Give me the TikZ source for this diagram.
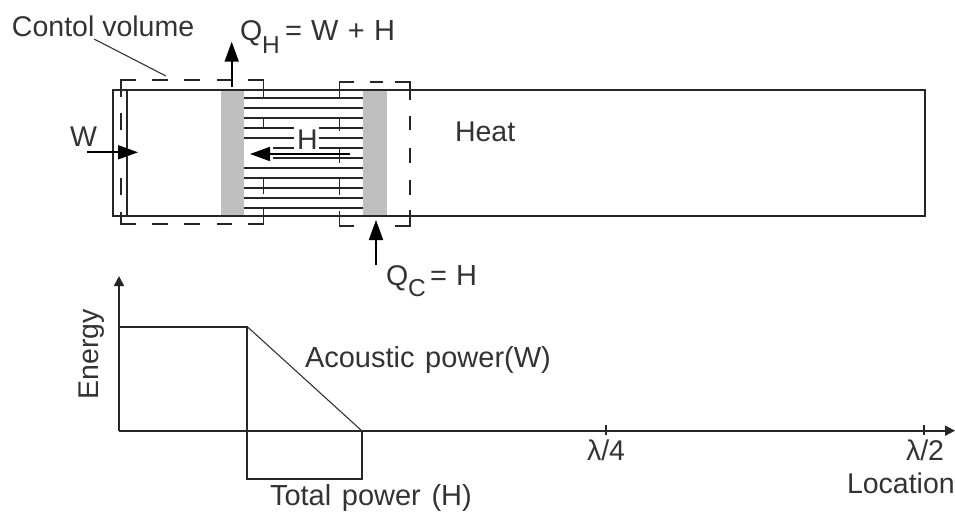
\documentclass[tikz,border=0pt]{standalone}
\usepackage{fontspec}
\setmainfont{Liberation Sans}
\newfontfamily\eqfam[WordSpace=1.45]{Liberation Sans}
\newfontfamily\widefam[WordSpace=1.15]{Liberation Sans}
\usetikzlibrary{arrows.meta}
\tikzset{
  px/.style={x=1pt,y=-1pt},
  ln/.style={line width=1.7pt,black!85},
  thin ln/.style={line width=1.1pt,black!80},
  cv/.style={line width=1.6pt,black!85},
  head/.style={-{Triangle[length=20pt,width=14pt]},line width=1.7pt,black},
  small head/.style={-{Triangle[length=10pt,width=10pt]},line width=1.7pt,black!85},
  lab/.style={anchor=base west,inner sep=0pt,outer sep=0pt,text=black!80,font=\fontsize{28.5}{30}\selectfont},
  wide lab/.style={lab,font=\widefam\fontsize{29}{30}\selectfont},
  eq lab/.style={lab,font=\eqfam\fontsize{29}{30}\selectfont},
  sublab/.style={anchor=base west,inner sep=0pt,outer sep=0pt,text=black!80,font=\fontsize{24.5}{26}\selectfont}
}
\begin{document}
\begin{tikzpicture}[px]
\useasboundingbox (0,0) rectangle (955,512);
% stacks
\fill[black!25] (220.7,90) rectangle (244,216);
\fill[black!25] (362.7,90) rectangle (386.7,216);
% stack plates
\foreach \y in {97.7,107.7,118,168,178,188.3,198.3,208.3}
  \draw[ln] (244,\y) -- (362.7,\y);
\draw[ln] (244,128) -- (294,128) (319,128) -- (362.7,128);
\draw[ln] (244,138) -- (294,138) (319,138) -- (362.7,138);
\draw[ln] (273,148) -- (294,148) (319,148) -- (362.7,148);
\draw[ln] (273,158) -- (362.7,158);
% tube and piston
\draw[ln] (127,90) rectangle (925,216);
\draw[ln] (113,90) rectangle (127,216);
% control volume 1
\draw[cv] (120.7,97) -- (120.7,80) -- (136,80);
\draw[cv] (151.7,80) -- (167.7,80) (184,80) -- (200,80) (216.7,80) -- (232,80);
\draw[cv] (248.3,80) -- (263.3,80) -- (263.3,98);
\draw[cv] (263.3,118) -- (263.3,128) (263.3,178) -- (263.3,194);
\draw[cv] (263.3,208) -- (263.3,224) -- (248.3,224);
\draw[cv] (232,224) -- (216.7,224) (200,224) -- (184,224) (167.7,224) -- (151.7,224);
\draw[cv] (136,224) -- (120.7,224) -- (120.7,212);
\draw[cv] (120.7,113) -- (120.7,130) (120.7,178) -- (120.7,195);
% control volume 2
\draw[cv] (339.3,98) -- (339.3,82) -- (354,82);
\draw[cv] (370,82) -- (383,82);
\draw[cv] (395,82) -- (410,82) -- (410,100);
\draw[cv] (410,116) -- (410,130) (410,148) -- (410,163) (410,180) -- (410,195);
\draw[cv] (410,210) -- (410,226) -- (395,226);
\draw[cv] (354,226) -- (339.3,226) -- (339.3,211);
\draw[cv] (339.3,118) -- (339.3,131) (339.3,148) -- (339.3,163) (339.3,178) -- (339.3,195);
% arrows
\coordinate (qhs) at (231.7,86.7);
\coordinate (qht) at (231.7,41.7);
\coordinate (ws) at (87,152.3);
\coordinate (wt) at (138,152.3);
\coordinate (hs) at (350,154);
\coordinate (ht) at (250,154);
\coordinate (qcs) at (376,265);
\coordinate (qct) at (376,220);
\draw[head] (qhs) -- (qht);
\draw[head] (ws) -- (wt);
\draw[head] (hs) -- (ht);
\draw[head] (qcs) -- (qct);
% leader
\coordinate (ls) at (94,39);
\coordinate (lt) at (166,76);
\draw[thin ln] (ls) -- (lt);
% graph
\coordinate (o) at (119,430.7);
\coordinate (ytip) at (119,276);
\coordinate (xtip) at (955,430.7);
\coordinate (pl) at (119,326.7);
\coordinate (pr) at (247.3,326.7);
\coordinate (bl) at (247.3,479);
\coordinate (br) at (361.7,479);
\coordinate (br2) at (361.7,430.7);
\draw[small head] (o) -- (ytip);
\draw[small head] (o) -- (xtip);
\draw[ln] (pl) -- (pr) -- (bl) -- (br) -- (br2);
\draw[thin ln] (pr) -- (br2);
\draw[ln] (606,425) -- (606,435);
\draw[ln] (924.3,425) -- (924.3,435);
% labels
\node[lab] (contol) at (12,36) {Contol volume};
\node[lab] (qh) at (240,40) {Q};
\node[sublab] (qhsub) at (262,53) {H};
\node[eq lab] (qheq) at (285,40.5) {= W + H};
\node[lab] (wl) at (70,146) {W};
\node[lab] (hl) at (297,149) {H};
\node[lab] (heat) at (455,141) {Heat};
\node[lab] (qc) at (386,285) {Q};
\node[sublab] (qcsub) at (408,296.7) {C};
\node[eq lab] (qceq) at (430,285) {= H};
\node[wide lab] (ac) at (305,367) {Acoustic power(W)};
\node[wide lab] (tot) at (270,505) {Total power (H)};
\node[lab,rotate=90] (en) at (98.5,399.5) {Energy};
\node[lab] (l4) at (587,460) {λ/4};
\node[lab] (l2) at (906,460) {λ/2};
\node[lab] (loc) at (847,493.5) {Location};
\end{tikzpicture}
\end{document}
